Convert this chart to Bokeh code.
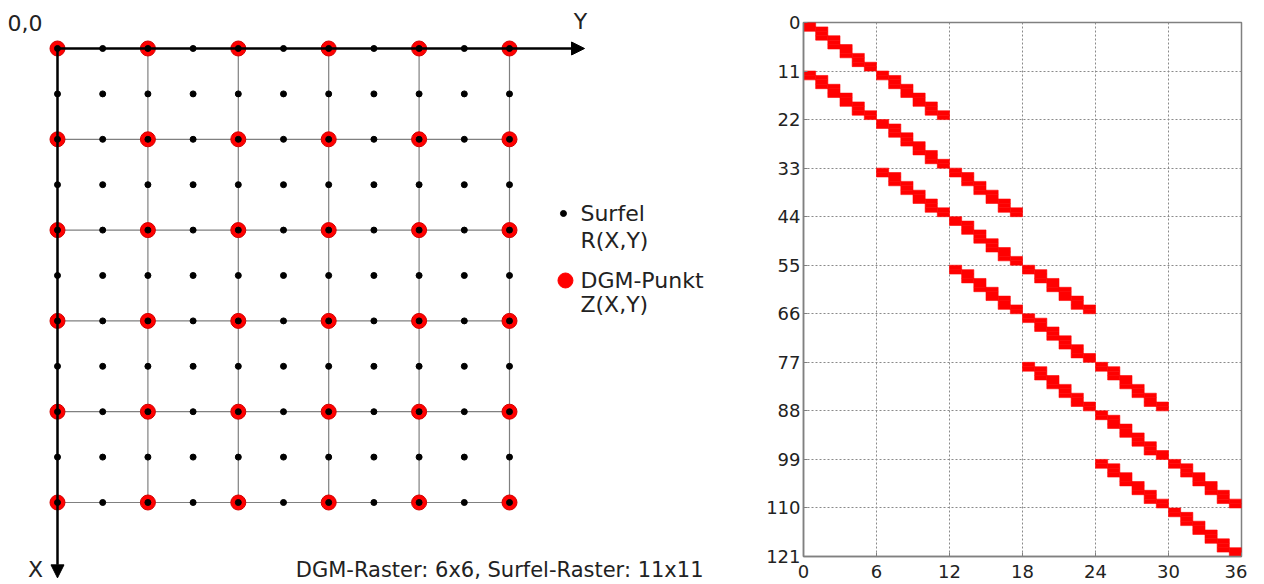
from bokeh.plotting import figure
from bokeh.models import Range1d, FixedTicker, Arrow, NormalHead, ColumnDataSource
from bokeh.core.properties import value
from bokeh.embed import file_html
from bokeh.resources import INLINE

# ---------------- data ----------------
dgm_n = 6                 # DGM raster 6x6
surfel_n = 11             # surfel raster 11x11
dgm_idx = [0, 1, 2, 3, 4, 5]
surfel_pos = [0, 0.5, 1, 1.5, 2, 2.5, 3, 3.5, 4, 4.5, 5]
# DGM neighbours of each surfel index (along one axis)
surfel_to_dgm = [[0], [0, 1], [1], [1, 2], [2], [2, 3], [3], [3, 4], [4], [4, 5], [5]]
x_ticks = [0, 6, 12, 18, 24, 30, 36]
y_ticks = [0, 11, 22, 33, 44, 55, 66, 77, 88, 99, 110, 121]
legend_labels = [["Surfel", "R(X,Y)"], ["DGM-Punkt", "Z(X,Y)"]]
caption = "DGM-Raster: 6x6, Surfel-Raster: 11x11"

FONT = "DejaVu Sans"
RED = "#ff0000"
TXT = "#222222"

# ---------------- left panel: raster diagram ----------------
left = figure(width=748, height=584, output_backend="svg", toolbar_location=None,
              x_range=Range1d(-0.6305, 7.6438), y_range=Range1d(5.9031, -0.5286),
              min_border=0)
left.axis.visible = False
left.grid.visible = False
left.outline_line_color = None

# grid lines between DGM points
gx0, gx1, gy0, gy1 = [], [], [], []
for k in dgm_idx:
    gx0 += [k, 0]; gy0 += [0, k]; gx1 += [k, dgm_idx[-1]]; gy1 += [dgm_idx[-1], k]
left.segment(x0=gy0, y0=gx0, x1=gy1, y1=gx1, line_color="#808080", line_width=1.2)

# axes with arrows
axis_len = 5.83
left.add_layout(Arrow(end=NormalHead(size=13, fill_color="black", line_color="black"),
                      x_start=0, y_start=0, x_end=axis_len, y_end=0,
                      line_color="black", line_width=2.5))
left.add_layout(Arrow(end=NormalHead(size=13, fill_color="black", line_color="black"),
                      x_start=0, y_start=0, x_end=0, y_end=axis_len,
                      line_color="black", line_width=2.5))

# DGM points
dx = [j for i in dgm_idx for j in dgm_idx]
dy = [i for i in dgm_idx for j in dgm_idx]
left.scatter(dx, dy, size=15, fill_color=RED, line_color="#d00000", line_width=1)

# surfels
sx = [j for i in surfel_pos for j in surfel_pos]
sy = [i for i in surfel_pos for j in surfel_pos]
left.scatter(sx, sy, size=6, fill_color="black", line_color="black")

# legend
left.scatter([5.597], [1.817], size=6, fill_color="black", line_color="black")
left.scatter([5.619], [2.555], size=15, fill_color=RED, line_color=RED)
left.text(x=[5.785, 5.785, 5.785, 5.785], y=[1.817, 2.115, 2.555, 2.819],
          text=[legend_labels[0][0], legend_labels[0][1], legend_labels[1][0], legend_labels[1][1]],
          text_font=value(FONT), text_font_size="22px", text_color=TXT,
          text_align="left", text_baseline="middle")

# labels
left.text(x=[-0.553], y=[-0.286], text=["0,0"], text_font=value(FONT), text_font_size="22px",
          text_color=TXT, text_align="left", text_baseline="middle")
left.text(x=[5.785], y=[-0.297], text=["Y"], text_font=value(FONT), text_font_size="22px",
          text_color=TXT, text_align="center", text_baseline="middle")
left.text(x=[-0.243], y=[5.738], text=["X"], text_font=value(FONT), text_font_size="22px",
          text_color=TXT, text_align="center", text_baseline="middle")
left.text(x=[7.146], y=[5.738], text=[caption], text_font=value(FONT), text_font_size="21px",
          text_color=TXT, text_align="right", text_baseline="middle")

# ---------------- right panel: sparsity pattern ----------------
rows_, cols_ = [], []
for i in range(surfel_n):
    for j in range(surfel_n):
        r = i * surfel_n + j
        for I in surfel_to_dgm[i]:
            for J in surfel_to_dgm[j]:
                rows_.append(r + 0.5)
                cols_.append(I * dgm_n + J + 0.5)
src = ColumnDataSource(dict(x=cols_, y=rows_))

right = figure(width=499, height=584, output_backend="svg", toolbar_location=None,
               x_range=Range1d(0, 36), y_range=Range1d(121, 0),
               min_border_left=55, min_border_top=22, min_border_right=6, min_border_bottom=28)
right.rect("x", "y", width=1, height=1, source=src, fill_color=RED,
           line_color=RED, line_width=0.6)

right.xaxis.ticker = FixedTicker(ticks=x_ticks)
right.yaxis.ticker = FixedTicker(ticks=y_ticks)
for ax in (right.xaxis[0], right.yaxis[0]):
    ax.axis_line_color = "#808080"
    ax.axis_line_width = 1.5
    ax.major_tick_in = 4
    ax.major_tick_out = 0
    ax.minor_tick_line_color = None
    ax.major_tick_line_color = "#808080"
    ax.major_label_text_font = FONT
    ax.major_label_text_font_size = "18px"
    ax.major_label_text_color = TXT
right.xaxis.major_label_standoff = 8
right.yaxis.major_label_standoff = 3
right.grid.grid_line_color = "#8a8a8a"
right.grid.grid_line_dash = "2 2"
right.grid.grid_line_width = 1
right.outline_line_color = "#808080"
right.outline_line_width = 1.5

# place the two panels side by side without frame alignment
TEMPLATE = """{% block postamble %}<style>
body { display: flex !important; flex-direction: row; align-items: flex-start; }
</style>{% endblock %}"""

open("out.html", "w").write(file_html([left, right], INLINE, template=TEMPLATE))
